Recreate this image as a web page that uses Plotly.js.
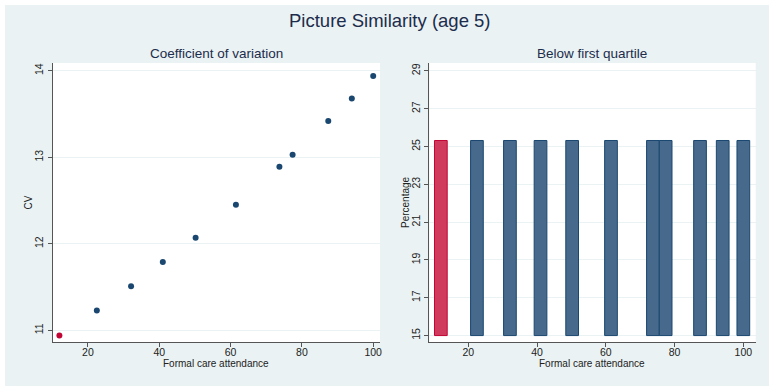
<!DOCTYPE html>
<html>
<head>
<meta charset="utf-8">
<script src="https://cdn.plot.ly/plotly-3.0.1.min.js"></script>
<style>
html,body{margin:0;padding:0;background:#ffffff;width:769px;height:386px;overflow:hidden;}
#chart{position:absolute;left:5px;top:5px;width:764px;height:381px;}
</style>
</head>
<body>
<div id="chart"></div>
<script>
// Data
var attendance = [12.0, 22.5, 32.1, 41.0, 50.2, 61.5, 73.7, 77.4, 87.4, 94.0, 100.0];
var cvValues   = [10.94, 11.23, 11.51, 11.79, 12.07, 12.45, 12.89, 13.03, 13.42, 13.68, 13.94];
var pctValues  = [25.32, 25.32, 25.32, 25.32, 25.32, 25.32, 25.32, 25.32, 25.32, 25.32, 25.32];
var highlight  = [true, false, false, false, false, false, false, false, false, false, false];
var mainTitle = "Picture Similarity (age 5)";
var leftTitle = "Coefficient of variation";
var rightTitle = "Below first quartile";
var xLabel = "Formal care attendance";
var leftYLabel = "CV";
var rightYLabel = "Percentage";
var barBase = 15;

var NAVY = "#1a476f", RED = "#c10534";
var BARFILL = "#46698c", BARRED = "#cf3a5d";
var BG = "#eaf2f3";
var FONT = "Liberation Sans, Arial, sans-serif";

var markerColors = highlight.map(function(h){ return h ? RED : NAVY; });
var barFill = highlight.map(function(h){ return h ? BARRED : BARFILL; });
var barLine = highlight.map(function(h){ return h ? RED : NAVY; });

var traces = [
  {
    type: "scatter", mode: "markers", x: attendance, y: cvValues,
    xaxis: "x", yaxis: "y",
    marker: {color: markerColors, size: 6},
    hoverinfo: "x+y"
  },
  {
    type: "bar", x: attendance, y: pctValues.map(function(v){ return v - barBase; }),
    base: barBase, width: 3.7,
    xaxis: "x2", yaxis: "y2",
    marker: {color: barFill, line: {color: barLine, width: 1}}
  }
];

var axisCommon = {
  showline: true, linecolor: "#555", linewidth: 1,
  ticks: "outside", ticklen: 4, tickcolor: "#555", tickwidth: 1,
  tickfont: {family: FONT, size: 10.5, color: "#222"},
  zeroline: false
};

function ax(extra){ var o = {}; for (var k in axisCommon) o[k] = axisCommon[k]; for (var k2 in extra) o[k2] = extra[k2]; return o; }

var layout = {
  width: 764, height: 381,
  margin: {l: 0, r: 0, t: 0, b: 0, pad: 0},
  paper_bgcolor: BG, plot_bgcolor: "#ffffff",
  showlegend: false,
  font: {family: FONT},
  xaxis: ax({domain: [0.0628, 0.4908], range: [10.2, 101.9], tickvals: [20, 40, 60, 80, 100], showgrid: false, anchor: "y", ticklabelstandoff: -4}),
  yaxis: ax({domain: [0.1155, 0.8478], range: [10.865, 14.09], tickvals: [11, 12, 13, 14], tickangle: -90,
             showgrid: true, gridcolor: BG, gridwidth: 1, anchor: "x", ticklabelstandoff: 1}),
  xaxis2: ax({domain: [0.5554, 0.9826], range: [8.65, 103.6], tickvals: [20, 40, 60, 80, 100], showgrid: false, anchor: "y2", ticklabelstandoff: -4}),
  yaxis2: ax({domain: [0.1155, 0.8478], range: [14.66, 29.42], tickvals: [15, 17, 19, 21, 23, 25, 27, 29], tickangle: -90,
             showgrid: true, gridcolor: BG, gridwidth: 1, anchor: "x2", ticklabelstandoff: 0}),
  annotations: [
    {text: mainTitle, xref: "paper", yref: "paper", x: 0.5037, y: 0.9606, xanchor: "center", yanchor: "middle",
     showarrow: false, font: {family: FONT, size: 18.5, color: "#1c2c4c"}},
    {text: leftTitle, xref: "paper", yref: "paper", x: 0.2771, y: 0.8732, xanchor: "center", yanchor: "middle",
     showarrow: false, font: {family: FONT, size: 13.5, color: "#1c2c4c"}},
    {text: rightTitle, xref: "paper", yref: "paper", x: 0.7683, y: 0.8732, xanchor: "center", yanchor: "middle",
     showarrow: false, font: {family: FONT, size: 13.5, color: "#1c2c4c"}},
    {text: xLabel, xref: "paper", yref: "paper", x: 0.2762, y: 0.0600, xanchor: "center", yanchor: "middle",
     showarrow: false, font: {family: FONT, size: 10, color: "#222"}},
    {text: xLabel, xref: "paper", yref: "paper", x: 0.7683, y: 0.0600, xanchor: "center", yanchor: "middle",
     showarrow: false, font: {family: FONT, size: 10, color: "#222"}},
    {text: leftYLabel, xref: "paper", yref: "paper", x: 0.0314, y: 0.4816, xanchor: "center", yanchor: "middle",
     textangle: -90, showarrow: false, font: {family: FONT, size: 10, color: "#222"}},
    {text: rightYLabel, xref: "paper", yref: "paper", x: 0.5249, y: 0.483, xanchor: "center", yanchor: "middle",
     textangle: -90, showarrow: false, font: {family: FONT, size: 10, color: "#222"}}
  ]
};

Plotly.newPlot("chart", traces, layout, {displayModeBar: false, staticPlot: true});
</script>
</body>
</html>
